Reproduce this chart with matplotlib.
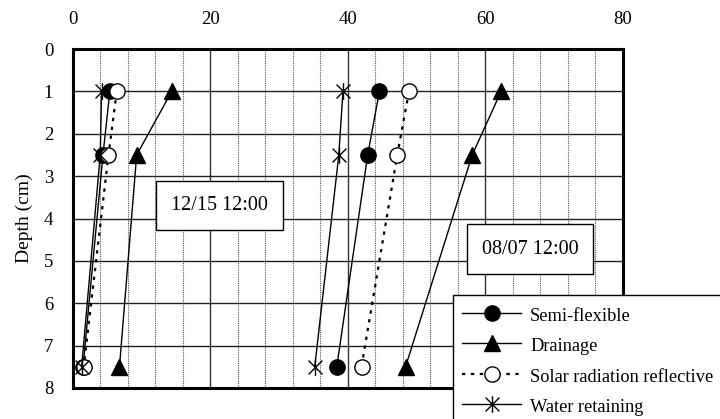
import numpy as np
import matplotlib
matplotlib.use('Agg')
import matplotlib.pyplot as plt
from matplotlib.path import Path
from matplotlib.ticker import MultipleLocator

plt.rcParams['font.family'] = ['Liberation Serif', 'DejaVu Serif']

depth = [1.0, 2.5, 7.5]

# 12/15 12:00 profiles (temperature, degC)
dec_semi = [5.4, 4.4, 1.5]
dec_drain = [14.4, 9.3, 6.8]
dec_solar = [6.4, 5.2, 1.6]
dec_water = [4.2, 4.0, 1.3]

# 08/07 12:00 profiles
aug_semi = [44.6, 42.9, 38.4]
aug_drain = [62.3, 58.1, 48.4]
aug_solar = [48.9, 47.2, 42.0]
aug_water = [39.3, 38.7, 35.2]

labels = ['Semi-flexible', 'Drainage', 'Solar radiation reflective', 'Water retaining']

# X with a vertical bar, like the Excel "star" marker
star = Path([(-1, -1), (1, 1), (-1, 1), (1, -1), (0, -1.2), (0, 1.2)],
            [Path.MOVETO, Path.LINETO, Path.MOVETO, Path.LINETO, Path.MOVETO, Path.LINETO])

fig = plt.figure(figsize=(7.2, 4.19), dpi=100)
ax = fig.add_axes([0.101, 0.074, 0.764, 0.809])

styles = [
    dict(color='black', ls='-', lw=1.0, marker='o', ms=11, mfc='black', mec='black'),
    dict(color='black', ls='-', lw=1.0, marker='^', ms=11, mfc='black', mec='black'),
    dict(color='black', ls=(0, (1.5, 2.5)), lw=1.6, marker='o', ms=11, mfc='white', mec='black', mew=1.0),
    dict(color='black', ls='-', lw=1.0, marker=star, ms=12, mec='black', mew=1.0),
]

handles = []
for dec, aug, st, lab in zip([dec_semi, dec_drain, dec_solar, dec_water],
                             [aug_semi, aug_drain, aug_solar, aug_water],
                             styles, labels):
    h, = ax.plot(dec, depth, label=lab, **st)
    ax.plot(aug, depth, **st)
    handles.append(h)

ax.set_xlim(0, 80)
ax.set_ylim(8, 0)
ax.xaxis.tick_top()
ax.set_xticks([0, 20, 40, 60, 80])
ax.xaxis.set_minor_locator(MultipleLocator(4))
ax.set_yticks(range(0, 9))
ax.tick_params(axis='both', which='both', length=0, labelsize=13.5)
ax.tick_params(axis='x', pad=15)
ax.tick_params(axis='y', pad=14)

ax.grid(True, which='major', axis='x', color='#333333', lw=1.0)
ax.grid(True, which='minor', axis='x', color='#555555', lw=0.8, ls=(0, (1, 1)))
ax.grid(True, which='major', axis='y', color='#222222', lw=1.0)
ax.set_axisbelow(True)
for s in ax.spines.values():
    s.set_linewidth(2.2)

ax.set_ylabel('Depth (cm)', fontsize=14, labelpad=8)

box = dict(boxstyle='square,pad=0.75', fc='white', ec='black', lw=1.0)
ax.text(21.3, 3.69, '12/15 12:00', fontsize=14.5, ha='center', va='center', bbox=box)
ax.text(66.5, 4.72, '08/07 12:00', fontsize=14.5, ha='center', va='center', bbox=box)

leg = fig.legend(handles=handles, loc='upper left', bbox_to_anchor=(0.629, 0.296),
                 fontsize=13.2, handlelength=3.2, handleheight=1.3, labelspacing=0.57,
                 borderaxespad=0, borderpad=0.52, handletextpad=0.5, fancybox=False,
                 framealpha=1, edgecolor='black')
leg.get_frame().set_linewidth(1.0)

fig.savefig('out.png', dpi=100)
